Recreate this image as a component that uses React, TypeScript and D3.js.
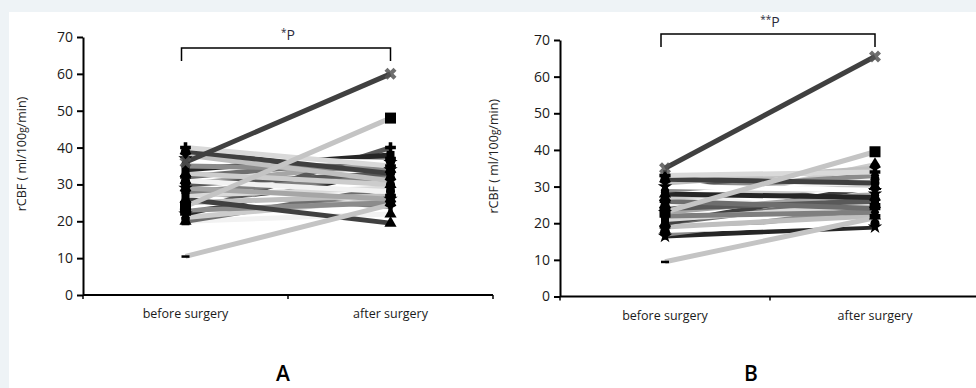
import React, { useEffect, useRef } from "react";
import * as d3 from "d3";

const categories = ["before surgery", "after surgery"];
const yTicks = [0, 10, 20, 30, 40, 50, 60, 70];

// panel A: rCBF before / after, one pair per patient
const beforeA = [36, 24, 10.5, 40, 39, 38, 37, 35, 34, 33, 32, 31, 30, 29, 28, 27, 26, 25, 24, 23, 22, 21, 20, 20, 22, 30, 28];
const afterA = [60, 48, 24.5, 35, 33, 31, 36, 34, 38, 30, 37, 28, 33, 26, 32, 29, 19.5, 27, 30, 25, 34, 26, 29, 22, 40, 36, 24];

// panel B
const beforeB = [35, 23, 9.5, 33, 32, 31, 30, 29, 28, 27, 26, 25, 24, 23, 22, 21, 20, 19, 18, 17, 16.5, 24, 20, 28, 33];
const afterB = [65.5, 39.5, 21.5, 34, 31, 35, 29, 33, 27, 30, 24, 32, 26, 28, 23, 25, 30, 22, 20, 24, 19, 36, 27, 22, 25];

const lineGrays = ["#595959", "#a6a6a6", "#7f7f7f", "#d9d9d9", "#404040", "#bfbfbf", "#ffffff", "#8c8c8c", "#262626", "#cccccc", "#6e6e6e", "#f2f2f2"];
const markerTypes = [d3.symbolDiamond, d3.symbolSquare, d3.symbolTriangle, d3.symbolCross, d3.symbolCircle, d3.symbolWye, d3.symbolStar];

const FONT = "'Open Sans', 'DejaVu Sans', sans-serif";

type PanelCfg = {
  before: number[];
  after: number[];
  axisX: number;
  axisEnd: number;
  y0: number;
  y70: number;
  bracketY: number;
  bracketDrop: number;
  stars: string;
  starsY: number;
  labelX: number;
  letter: string;
  letterX: number;
};

const panels: PanelCfg[] = [
  { before: beforeA, after: afterA, axisX: 83, axisEnd: 493, y0: 295, y70: 37, bracketY: 48, bracketDrop: 13, stars: "*", starsY: 40, labelX: 26, letter: "A", letterX: 283 },
  { before: beforeB, after: afterB, axisX: 560, axisEnd: 980, y0: 296.5, y70: 40, bracketY: 34, bracketDrop: 13, stars: "**", starsY: 27, labelX: 498, letter: "B", letterX: 751 },
];

function drawPanel(svg: d3.Selection<SVGSVGElement, unknown, null, undefined>, p: PanelCfg) {
  const g = svg.append("g");
  const y = d3.scaleLinear().domain([0, 70]).range([p.y0, p.y70]);
  const x = d3.scaleBand().domain(categories).range([p.axisX, p.axisEnd]);
  const cx = (c: string) => x(c)! + x.bandwidth() / 2;

  // y axis
  const yAxis = d3.axisLeft(y).tickValues(yTicks).tickSize(6).tickSizeOuter(0).tickPadding(4);
  g.append("g")
    .attr("transform", `translate(${p.axisX},0)`)
    .call(yAxis)
    .call((a) => a.selectAll(".domain, .tick line").attr("stroke", "#000").attr("stroke-width", 2))
    .call((a) => a.selectAll(".tick text").attr("fill", "#1a1a1a").attr("font-size", 14).attr("font-family", FONT));

  // x axis (ticks between categories)
  g.append("line")
    .attr("x1", p.axisX).attr("x2", p.axisEnd)
    .attr("y1", y(0)).attr("y2", y(0))
    .attr("stroke", "#000").attr("stroke-width", 2);
  [p.axisX, x(categories[1])!, p.axisEnd].forEach((tx) => {
    g.append("line").attr("x1", tx).attr("x2", tx).attr("y1", y(0)).attr("y2", y(0) + 4).attr("stroke", "#000").attr("stroke-width", 1.5);
  });
  categories.forEach((c) => {
    g.append("text")
      .attr("x", cx(c)).attr("y", y(0) + 23)
      .attr("text-anchor", "middle")
      .attr("font-size", 12.5).attr("font-family", FONT).attr("fill", "#1a1a1a")
      .text(c);
  });

  // y label
  const yl = g.append("text")
    .attr("transform", `translate(${p.labelX},${(p.y0 + p.y70) / 2 - 12}) rotate(-90)`)
    .attr("text-anchor", "middle")
    .attr("font-size", 12.5).attr("font-family", FONT).attr("fill", "#222");
  yl.append("tspan").text("rCBF ( ml/100");
  yl.append("tspan").attr("font-size", 10).text("g");
  yl.append("tspan").text("/min)");

  const bx = cx(categories[0]);
  const ax = cx(categories[1]);

  // lines, drawn so the highlighted ones stay on top
  const idx = d3.range(p.before.length).reverse();
  idx.forEach((i) => {
    let col = lineGrays[i % lineGrays.length];
    if (i === 0) col = "#404040";
    if (i === 1 || i === 2) col = "#c4c4c4";
    g.append("line")
      .attr("x1", bx).attr("y1", y(p.before[i]))
      .attr("x2", ax).attr("y2", y(p.after[i]))
      .attr("stroke", col).attr("stroke-width", 5);
  });

  // markers
  const sym = d3.symbol().size(64);
  idx.forEach((i) => {
    [[bx, p.before[i]], [ax, p.after[i]]].forEach(([px, v]) => {
      if (i === 0) {
        g.append("path")
          .attr("transform", `translate(${px},${y(v)}) rotate(45)`)
          .attr("d", d3.symbol().type(d3.symbolCross).size(90)())
          .attr("fill", "#555").attr("opacity", 0.85);
      } else if (i === 1) {
        g.append("rect")
          .attr("x", px - 5.5).attr("y", y(v) - 5.5).attr("width", 11).attr("height", 11)
          .attr("fill", "#000");
      } else if (i === 2) {
        g.append("rect")
          .attr("x", px - 4).attr("y", y(v) - 1).attr("width", 8).attr("height", 2.5)
          .attr("fill", "#000");
      } else {
        g.append("path")
          .attr("transform", `translate(${px},${y(v)})`)
          .attr("d", sym.type(markerTypes[i % markerTypes.length])())
          .attr("fill", "#000");
      }
    });
  });

  // significance bracket
  g.append("path")
    .attr("d", `M${bx - 4},${p.bracketY + p.bracketDrop}V${p.bracketY}H${ax}V${p.bracketY + p.bracketDrop}`)
    .attr("fill", "none").attr("stroke", "#000").attr("stroke-width", 1.5);
  const st = g.append("text")
    .attr("x", (bx + ax) / 2).attr("y", p.starsY)
    .attr("text-anchor", "middle")
    .attr("font-family", FONT).attr("fill", "#2a2a3a");
  st.append("tspan").attr("font-size", 10).attr("dy", -4).text(p.stars);
  st.append("tspan").attr("font-size", 14).attr("dy", 4).text("P");

  g.append("text")
    .attr("x", p.letterX).attr("y", 381)
    .attr("text-anchor", "middle")
    .attr("font-size", 21).attr("font-weight", 600).attr("font-family", FONT).attr("fill", "#000")
    .text(p.letter);
}

const App: React.FC = () => {
  const svgRef = useRef<SVGSVGElement | null>(null);

  useEffect(() => {
    const el = svgRef.current;
    if (!el) return;
    const svg = d3.select(el);
    svg.selectAll("*").remove();
    svg.append("rect").attr("width", 976).attr("height", 388).attr("fill", "#eef3f6");
    svg.append("rect").attr("x", 9).attr("y", 12).attr("width", 967).attr("height", 376).attr("fill", "#fff");
    panels.forEach((p) => drawPanel(svg, p));
  }, []);

  return (
    <svg ref={svgRef} width={976} height={388} style={{ position: "absolute", left: 0, top: 0 }} />
  );
};

export default App;
